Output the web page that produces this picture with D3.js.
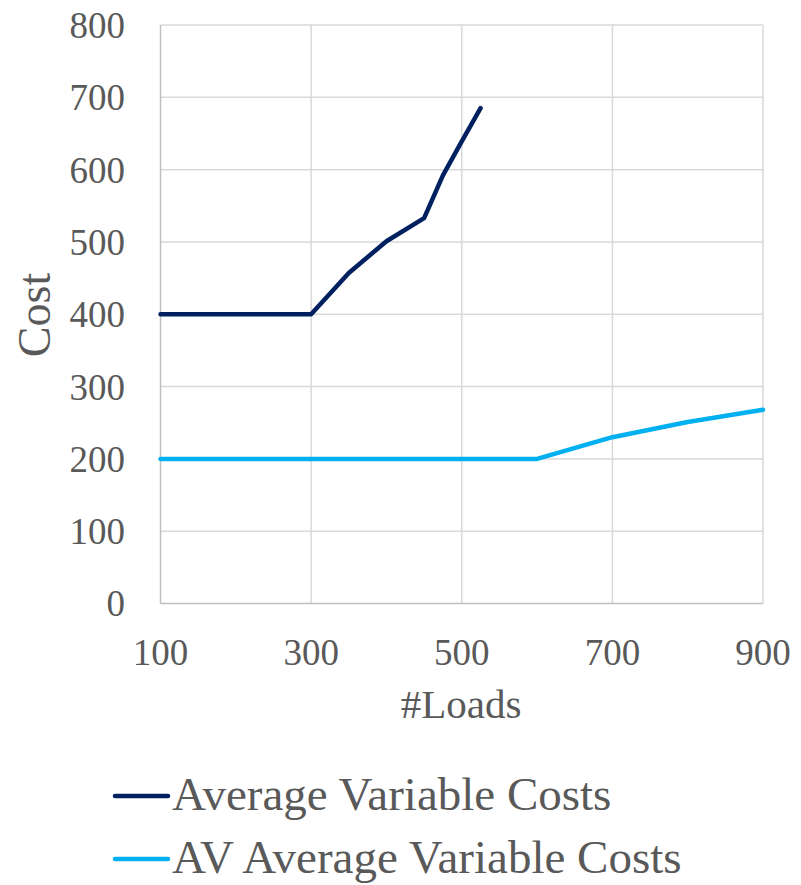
<!DOCTYPE html>
<html><head><meta charset="utf-8">
<script src="https://cdn.jsdelivr.net/npm/d3@7/dist/d3.min.js"></script>
<style>body{margin:0;background:#fff;} svg{display:block;}</style>
</head><body>
<script>
const avcX = [100,150,200,250,300,350,400,450,475,500,525];
const avcY = [400,400,400,400,400,457,501,533,592,639,685];
const avX = [100,150,200,250,300,350,400,450,500,550,600,700,800,900];
const avY = [200,200,200,200,200,200,200,200,200,200,200,230,251,268];
const seriesNames = ["Average Variable Costs","AV Average Variable Costs"];
const seriesColors = ["#002060","#00B0F0"];
const xTicks = [100,300,500,700,900];
const yTicks = [0,100,200,300,400,500,600,700,800];

const W=801,H=885;
const font="'Liberation Serif','Times New Roman',serif";
const svg=d3.select("body").append("svg").attr("width",W).attr("height",H);
const x=d3.scaleLinear().domain([100,900]).range([160.5,763]);
const y=d3.scaleLinear().domain([0,800]).range([603.5,25]);

svg.append("g").selectAll("line").data(yTicks.filter(d=>d>0)).join("line")
 .attr("x1",x(100)).attr("x2",x(900)).attr("y1",d=>y(d)).attr("y2",d=>y(d))
 .attr("stroke","#D9D9D9").attr("stroke-width",1.5);
svg.append("g").selectAll("line").data(xTicks.filter(d=>d>100)).join("line")
 .attr("y1",y(0)).attr("y2",y(800)).attr("x1",d=>x(d)).attr("x2",d=>x(d))
 .attr("stroke","#D9D9D9").attr("stroke-width",1.5);
svg.append("line").attr("x1",x(100)).attr("x2",x(100)).attr("y1",y(0)).attr("y2",y(800)).attr("stroke","#BFBFBF").attr("stroke-width",1.5);
svg.append("line").attr("x1",x(100)).attr("x2",x(900)).attr("y1",y(0)).attr("y2",y(0)).attr("stroke","#BFBFBF").attr("stroke-width",1.5);

svg.append("g").selectAll("text").data(yTicks).join("text")
 .attr("x",125).attr("y",d=>y(d)).attr("dy","0.35em").attr("text-anchor","end")
 .attr("font-family",font).attr("font-size",37).attr("fill","#595959").text(d=>d);
svg.append("g").selectAll("text").data(xTicks).join("text")
 .attr("x",d=>x(d)).attr("y",665).attr("text-anchor","middle")
 .attr("font-family",font).attr("font-size",37).attr("fill","#595959").text(d=>d);

svg.append("text").attr("x",461).attr("y",718).attr("text-anchor","middle")
 .attr("font-family",font).attr("font-size",41).attr("fill","#595959").text("#Loads");
svg.append("text").attr("transform","translate(50,315) rotate(-90)").attr("text-anchor","middle")
 .attr("font-family",font).attr("font-size",46).attr("fill","#595959").text("Cost");

const line=d3.line().x(d=>x(d[0])).y(d=>y(d[1]));
const data=[avcX.map((v,i)=>[v,avcY[i]]), avX.map((v,i)=>[v,avY[i]])];
svg.append("g").selectAll("path").data(data).join("path")
 .attr("d",line).attr("fill","none").attr("stroke",(d,i)=>seriesColors[i])
 .attr("stroke-width",4.5).attr("stroke-linejoin","round").attr("stroke-linecap","round");

const lg=svg.append("g").selectAll("g").data(seriesNames).join("g")
 .attr("transform",(d,i)=>`translate(0,${796+i*63})`);
lg.append("line").attr("x1",115).attr("x2",168).attr("y1",0).attr("y2",0)
 .attr("stroke",(d,i)=>seriesColors[i]).attr("stroke-width",4.5).attr("stroke-linecap","round");
lg.append("text").attr("x",172).attr("y",14).attr("font-family",font).attr("font-size",47)
 .attr("fill","#595959").text(d=>d);
</script>
</body></html>
